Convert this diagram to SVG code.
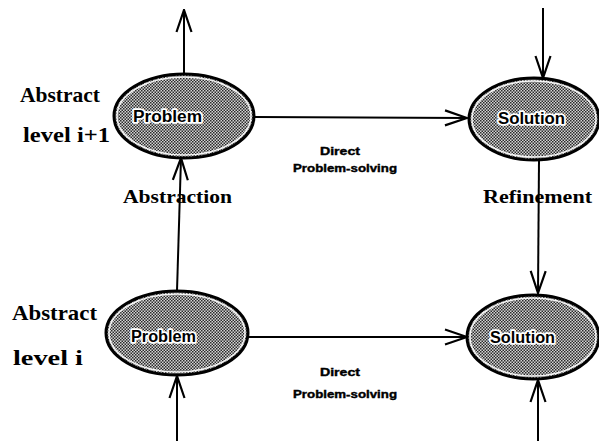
<svg xmlns="http://www.w3.org/2000/svg" width="599" height="441" viewBox="0 0 599 441">
  <defs>
    <!-- dithered grey fill used by all four ellipses -->
    <pattern id="stipple" width="3" height="3" patternUnits="userSpaceOnUse">
      <rect width="3" height="3" fill="#d4d4d4"/>
      <rect x="0" y="0" width="1.5" height="1.5" fill="#2a2a2a"/>
      <rect x="1.5" y="1.5" width="1.5" height="1.5" fill="#2a2a2a"/>
    </pattern>
    <marker id="vee" viewBox="0 0 24 18" refX="23" refY="9" markerWidth="24" markerHeight="18" markerUnits="userSpaceOnUse" orient="auto">
      <path d="M1,1.5 L23,9 L1,16.5" fill="none" stroke="#000" stroke-width="2.2"/>
    </marker>
  </defs>
  <style>
    .node .shape { fill: url(#stipple); stroke: #000; stroke-width: 3; }
    .node .rim { fill: none; stroke: #f4f4f4; stroke-width: 1.5; }
    .node text { font-family: "Liberation Sans", Arial, sans-serif; font-weight: bold; font-size: 16px; fill: #000; stroke: #fff; stroke-width: 3.5; paint-order: stroke; stroke-linejoin: round; }
    .edge { fill: none; stroke: #000; stroke-width: 2; }
    .lvl { font-family: "Liberation Serif", "Times New Roman", serif; font-weight: bold; font-size: 21px; fill: #000; }
    .op { font-family: "Liberation Serif", "Times New Roman", serif; font-weight: bold; font-size: 19px; fill: #000; }
    .small { font-family: "Liberation Sans", Arial, sans-serif; font-weight: bold; font-size: 11px; fill: #000; stroke: #000; stroke-width: 0.4; }
  </style>
  <rect width="599" height="441" fill="#fff"/>

  <g id="connectors">
    <line class="edge" x1="184" y1="73" x2="184" y2="10" marker-end="url(#vee)"/>
    <line class="edge" x1="255" y1="117" x2="467" y2="118" marker-end="url(#vee)"/>
    <line class="edge" x1="543" y1="8" x2="543" y2="78" marker-end="url(#vee)"/>
    <line class="edge" x1="539" y1="160" x2="538" y2="293" marker-end="url(#vee)"/>
    <line class="edge" x1="177" y1="291" x2="181" y2="158" marker-end="url(#vee)"/>
    <line class="edge" x1="248" y1="337" x2="467" y2="337" marker-end="url(#vee)"/>
    <line class="edge" x1="177" y1="441" x2="177" y2="376" marker-end="url(#vee)"/>
    <line class="edge" x1="538" y1="441" x2="538" y2="380" marker-end="url(#vee)"/>
  </g>

  <g id="problem-upper" class="node">
    <ellipse class="shape" cx="184" cy="116" rx="70" ry="42"/>
    <ellipse class="rim" cx="184" cy="116" rx="67" ry="39"/>
    <text x="133" y="122" textLength="69" lengthAdjust="spacingAndGlyphs">Problem</text>
  </g>

  <g id="solution-upper" class="node">
    <ellipse class="shape" cx="534" cy="119" rx="65" ry="41"/>
    <ellipse class="rim" cx="534" cy="119" rx="62" ry="38"/>
    <text x="498" y="124" textLength="67" lengthAdjust="spacingAndGlyphs">Solution</text>
  </g>

  <g id="problem-lower" class="node">
    <ellipse class="shape" cx="177" cy="333" rx="71" ry="42"/>
    <ellipse class="rim" cx="177" cy="333" rx="68" ry="39"/>
    <text x="131" y="342" textLength="65" lengthAdjust="spacingAndGlyphs">Problem</text>
  </g>

  <g id="solution-lower" class="node">
    <ellipse class="shape" cx="533" cy="337" rx="66" ry="42"/>
    <ellipse class="rim" cx="533" cy="337" rx="63" ry="39"/>
    <text x="490" y="343" textLength="65" lengthAdjust="spacingAndGlyphs">Solution</text>
  </g>

  <g id="labels">
    <text class="lvl" x="20" y="102" textLength="80" lengthAdjust="spacingAndGlyphs">Abstract</text>
    <text class="lvl" x="23" y="142" textLength="87" lengthAdjust="spacingAndGlyphs">level i+1</text>
    <text class="lvl" x="12" y="320" textLength="85" lengthAdjust="spacingAndGlyphs">Abstract</text>
    <text class="lvl" x="13" y="365" textLength="70" lengthAdjust="spacingAndGlyphs">level i</text>
    <text class="op" x="123" y="203" textLength="109" lengthAdjust="spacingAndGlyphs">Abstraction</text>
    <text class="op" x="483" y="203" textLength="109" lengthAdjust="spacingAndGlyphs">Refinement</text>
    <text class="small" x="320" y="155" textLength="40" lengthAdjust="spacingAndGlyphs">Direct</text>
    <text class="small" x="293" y="172" textLength="104" lengthAdjust="spacingAndGlyphs">Problem-solving</text>
    <text class="small" x="320" y="376" textLength="40" lengthAdjust="spacingAndGlyphs">Direct</text>
    <text class="small" x="293" y="398" textLength="104" lengthAdjust="spacingAndGlyphs">Problem-solving</text>
  </g>
</svg>
